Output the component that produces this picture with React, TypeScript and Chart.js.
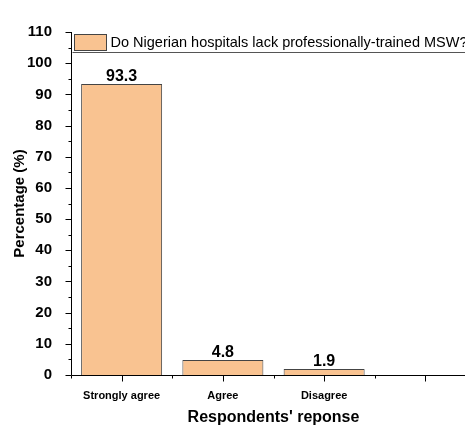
import React, { useEffect, useRef } from "react";
import { Chart, registerables } from "chart.js";

Chart.register(...registerables);

const categories = ["Strongly agree", "Agree", "Disagree", ""];
const percentages: (number | null)[] = [93.3, 4.8, 1.9, null];
const legendLabel = "Do Nigerian hospitals lack professionally-trained MSW?";
const yTitle = "Percentage (%)";
const xTitle = "Respondents' reponse";

const FONT = "'Liberation Sans', Arial, Helvetica, sans-serif";
const BAR_FILL = "#F9C391";
const BAR_BORDER = "#444444";

const W = 490;
const H = 428;

const decorPlugin = {
  id: "decor",
  afterDatasetsDraw(chart: any) {
    const ctx = chart.ctx;
    const meta = chart.getDatasetMeta(0);
    ctx.save();
    ctx.fillStyle = "#000";
    ctx.font = `bold 16px ${FONT}`;
    ctx.textAlign = "center";
    ctx.textBaseline = "alphabetic";
    meta.data.forEach((el: any, i: number) => {
      const v = percentages[i];
      if (v == null) return;
      ctx.fillText(v.toFixed(1), el.x, el.y - 3);
    });
    ctx.restore();
  },
  afterDraw(chart: any) {
    const ctx = chart.ctx;
    const x = chart.scales.x;
    const y = chart.scales.y;
    const area = chart.chartArea;
    ctx.save();
    ctx.strokeStyle = "#000";
    ctx.lineWidth = 1;
    // axes lines
    const ax = Math.round(area.left) + 0.5;
    const ay = Math.round(area.bottom) + 0.5;
    ctx.beginPath();
    ctx.moveTo(ax, area.top);
    ctx.lineTo(ax, ay);
    ctx.lineTo(chart.width, ay);
    ctx.stroke();
    // y ticks
    for (let v = 0; v <= 110; v += 5) {
      const py = Math.round(y.getPixelForValue(v)) + 0.5;
      const len = v % 10 === 0 ? 6 : 3;
      ctx.beginPath();
      ctx.moveTo(ax - len, py);
      ctx.lineTo(ax, py);
      ctx.stroke();
    }
    // x ticks
    const n = categories.length;
    const step = x.getPixelForValue(1) - x.getPixelForValue(0);
    for (let i = 0; i < n; i++) {
      const c = x.getPixelForValue(i);
      const pc = Math.round(c) + 0.5;
      ctx.beginPath();
      ctx.moveTo(pc, ay);
      ctx.lineTo(pc, ay + 6);
      ctx.stroke();
      const pb = Math.round(c + step / 2) + 0.5;
      ctx.beginPath();
      ctx.moveTo(pb, ay);
      ctx.lineTo(pb, ay + 3);
      ctx.stroke();
      if (i === 0) {
        const pl = Math.round(c - step / 2) + 0.5;
        ctx.beginPath();
        ctx.moveTo(pl, ay);
        ctx.lineTo(pl, ay + 3);
        ctx.stroke();
      }
    }
    // legend
    const top = area.top;
    ctx.strokeStyle = "#555";
    ctx.beginPath();
    ctx.moveTo(ax + 1, top + 20.5);
    ctx.lineTo(chart.width, top + 20.5);
    ctx.stroke();
    ctx.fillStyle = BAR_FILL;
    ctx.fillRect(ax + 3, top + 2, 32, 16);
    ctx.strokeStyle = BAR_BORDER;
    ctx.strokeRect(ax + 3, top + 2.5, 32, 16);
    ctx.fillStyle = "#000";
    ctx.font = `14.5px ${FONT}`;
    ctx.textAlign = "left";
    ctx.textBaseline = "middle";
    ctx.fillText(legendLabel, ax + 39, top + 11);
    ctx.restore();
  },
};

export default function App() {
  const ref = useRef<HTMLCanvasElement | null>(null);
  useEffect(() => {
    if (!ref.current) return;
    const chart = new Chart(ref.current, {
      type: "bar",
      data: {
        labels: categories,
        datasets: [
          {
            label: legendLabel,
            data: percentages,
            backgroundColor: BAR_FILL,
            borderColor: BAR_BORDER,
            borderWidth: 1,
            barPercentage: 0.8,
            categoryPercentage: 1.0,
          },
        ],
      },
      options: {
        responsive: false,
        animation: false,
        devicePixelRatio: 1,
        layout: { padding: { top: 32, left: 0, right: 14, bottom: 0 } },
        plugins: {
          legend: { display: false },
          tooltip: { enabled: false },
        },
        scales: {
          x: {
            grid: { display: false },
            border: { display: false },
            ticks: {
              color: "#000",
              font: { family: FONT, size: 11, weight: "bold" },
              padding: 6,
              maxRotation: 0,
              autoSkip: false,
            },
            title: {
              display: true,
              text: xTitle,
              color: "#000",
              font: { family: FONT, size: 16, weight: "bold" },
              padding: { top: 0, bottom: 1 },
            },
            afterFit: (s: any) => {
              s.height = 53;
            },
          },
          y: {
            min: 0,
            max: 110,
            grid: { display: false },
            border: { display: false },
            ticks: {
              stepSize: 10,
              color: "#000",
              font: { family: FONT, size: 15, weight: "bold" },
              padding: 11,
            },
            title: {
              display: true,
              text: yTitle,
              color: "#000",
              font: { family: FONT, size: 15, weight: "bold" },
              padding: { top: 11, bottom: 0 },
            },
            afterFit: (s: any) => {
              s.width = 71;
            },
          },
        },
      },
      plugins: [decorPlugin],
    });
    return () => chart.destroy();
  }, []);
  return (
    <div
      style={{
        position: "fixed",
        left: 0,
        top: 0,
        width: 465,
        height: 428,
        overflow: "hidden",
        background: "#fff",
      }}
    >
      <canvas ref={ref} width={W} height={H} style={{ width: W, height: H, display: "block" }} />
    </div>
  );
}
